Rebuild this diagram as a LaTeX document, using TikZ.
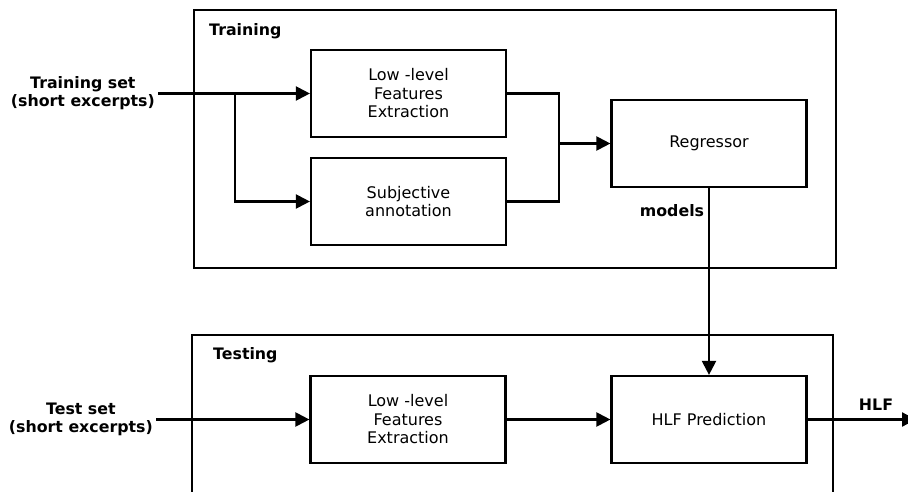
\documentclass[tikz,border=0pt]{standalone}
\usepackage{fontspec}
\setmainfont{DejaVu Sans}
\usetikzlibrary{arrows.meta}

\tikzset{
  stage/.style={draw, line width=2.2pt, minimum width=195pt, minimum height=87pt,
    inner sep=0pt, align=center, font=\fontsize{16}{18.5}\selectfont},
  frame/.style={draw, line width=2.2pt, inner sep=0pt},
  tag/.style={font=\fontsize{15.8}{18}\selectfont\bfseries, align=center, inner sep=3pt},
  flow/.style={line width=2.2pt, -{Triangle[length=14pt,width=14pt]}},
  wire/.style={line width=2.2pt}
}

\begin{document}
\begin{tikzpicture}[x=1pt,y=-1pt]
  \useasboundingbox (0,0) rectangle (908,492);
  \clip (0,0) rectangle (908,492);

  % enclosing frames
  \node[frame, minimum width=642pt, minimum height=258pt] (trainframe) at (515,139) {};
  \node[frame, minimum width=641pt, minimum height=159pt] (testframe) at (512.5,414.5) {};
  \node[tag, anchor=west] (traintitle) at (206,31) {Training};
  \node[tag, anchor=west] (testtitle) at (210,355) {Testing};

  % training stages
  \node[stage] (llf1) at (408.5,93.5) {Low -level\\Features\\Extraction};
  \node[stage] (subj) at (408.5,201.5) {Subjective\\annotation};
  \node[stage] (reg) at (709,143.5) {Regressor};

  % testing stages
  \node[stage] (llf2) at (408,419.5) {Low -level\\Features\\Extraction};
  \node[stage] (hlf) at (709,419.5) {HLF Prediction};

  % inputs and outputs
  \node[tag, anchor=east] (trainin) at (158,93.5) {Training set\\(short excerpts)};
  \node[tag, anchor=east] (testin) at (156,419.5) {Test set\\(short excerpts)};
  \node[tag] (models) at (672,211) {models};
  \node[tag] (hlfout) at (876,405) {HLF};
  \coordinate (out) at (916,419.5);

  % training connectors
  \coordinate (split) at (235,93.5);
  \coordinate (merge) at (559,143.5);
  \draw[flow] (trainin.east) -- (llf1.west);
  \draw[flow] (split) |- (subj.west);
  \draw[wire] (llf1.east) -| (merge |- subj.east) -- (subj.east);
  \draw[flow] (merge) -- (reg.west);

  % learned models feed the prediction
  \draw[flow] (reg.south) -- (hlf.north);

  % testing connectors
  \draw[flow] (testin.east) -- (llf2.west);
  \draw[flow] (llf2.east) -- (hlf.west);
  \draw[flow] (hlf.east) -- (out);
\end{tikzpicture}
\end{document}
